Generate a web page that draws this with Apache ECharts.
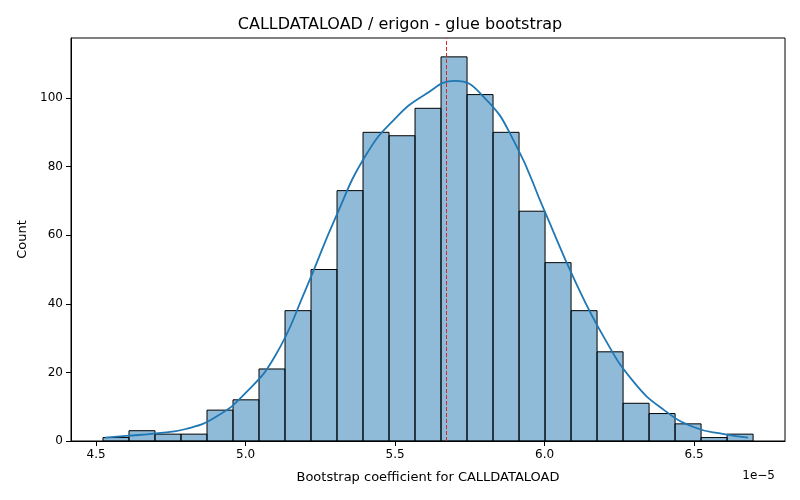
<!DOCTYPE html>
<html><head><meta charset="utf-8">
<script src="https://cdn.jsdelivr.net/npm/echarts@6/dist/echarts.min.js"></script>
<style>body{margin:0}#c{width:800px;height:500px}</style>
</head><body><div id="c"></div>
<script>
var binStart = 4.523, binWidth = 0.08697;
var counts = [1,3,2,2,9,12,21,38,50,73,90,89,97,112,101,90,67,52,38,26,11,8,5,1,2];
var kdeX = [4.53,4.6,4.7,4.8,4.9,5.0,5.1,5.2,5.3,5.4,5.5,5.6,5.7,5.8,5.9,6.0,6.1,6.2,6.3,6.4,6.5,6.6,6.68];
var kdeY = [1,1.5,2.2,3.5,7,14,25,44,65,83,94,101,105,100,87,67,47,30,17,9,4,2,1];
var meanLine = 5.667;
var xTicks = [4.5,5.0,5.5,6.0,6.5];

var bars = counts.map(function(c,i){ return [binStart+i*binWidth, binStart+(i+1)*binWidth, c]; });
var kde = kdeX.map(function(x,i){ return [x,kdeY[i]]; });
var font = 'DejaVu Sans';
var chart = echarts.init(document.getElementById('c'));
chart.setOption({
  animation:false,
  textStyle:{fontFamily:font},
  title:{text:'CALLDATALOAD / erigon - glue bootstrap',left:'center',top:12,textStyle:{fontFamily:font,fontSize:16,fontWeight:'normal',color:'#000'}},
  grid:{left:71,right:15,top:38,bottom:59},
  xAxis:{type:'value',min:4.416,max:6.804,
    name:'Bootstrap coefficient for CALLDATALOAD',nameLocation:'middle',nameGap:30,nameTextStyle:{fontSize:13,color:'#000'},
    axisLine:{onZero:false,lineStyle:{color:'#000'}},splitLine:{show:false},
    axisTick:{customValues:xTicks,lineStyle:{color:'#000'}},
    axisLabel:{customValues:xTicks,fontSize:12,color:'#000',formatter:function(v){return v.toFixed(1);}}},
  yAxis:{type:'value',min:0,max:117.5,interval:20,
    name:'Count',nameLocation:'middle',nameGap:42,nameTextStyle:{fontSize:13,color:'#000'},
    axisLine:{show:true,lineStyle:{color:'#000'}},axisTick:{show:true},splitLine:{show:false},
    axisLabel:{fontSize:12,color:'#000',showMaxLabel:false}},
  graphic:[{type:'text',right:25,top:470,style:{text:'1e\u22125',font:'12px DejaVu Sans',fill:'#000'}},
    {type:'rect',shape:{x:71,y:38,width:714,height:403},style:{fill:'none',stroke:'#000',lineWidth:1},silent:true}],
  series:[
    {type:'custom',data:bars,renderItem:function(params,api){
      var p0=api.coord([api.value(0),api.value(2)]), p1=api.coord([api.value(1),0]);
      return {type:'rect',shape:{x:p0[0],y:p0[1],width:p1[0]-p0[0],height:p1[1]-p0[1]},
        style:{fill:'rgba(31,119,180,0.5)',stroke:'#000',lineWidth:1}};
    },encode:{x:[0,1],y:2}},
    {type:'line',data:kde,smooth:true,showSymbol:false,lineStyle:{color:'#1f77b4',width:1.8},
      markLine:{symbol:'none',silent:true,label:{show:false},lineStyle:{color:'#d62728',type:'dashed',width:1},data:[{xAxis:meanLine}]}}
  ]
});
</script></body></html>
